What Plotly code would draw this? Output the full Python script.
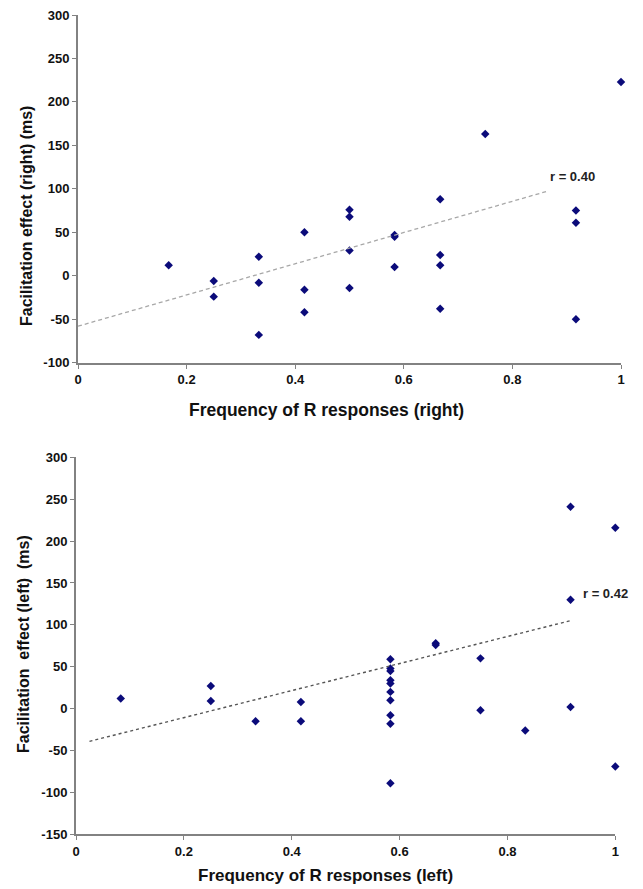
import plotly.graph_objects as go

# ---- Top panel (right) ----
right_x = [0.167, 0.25, 0.25, 0.333, 0.333, 0.333, 0.417, 0.417, 0.417,
           0.5, 0.5, 0.5, 0.5, 0.583, 0.583, 0.583, 0.667, 0.667, 0.667, 0.667,
           0.75, 0.917, 0.917, 0.917, 1.0]
right_y = [12, -6, -24, 22, -8, -68, 50, -16, -42,
           76, 68, 29, -14, 47, 45, 10, 88, 24, 12, -38,
           163, 75, 61, -50, 223]
right_trend_x = [0.0, 0.863]
right_trend_y = [-58, 97]
right_r = "r = 0.40"

# ---- Bottom panel (left) ----
left_x = [0.083, 0.25, 0.25, 0.333, 0.417, 0.417,
          0.583, 0.583, 0.583, 0.583, 0.583, 0.583, 0.583, 0.583, 0.583, 0.583,
          0.667, 0.667, 0.75, 0.75, 0.833, 0.917, 0.917, 0.917, 1.0, 1.0]
left_y = [12, 27, 9, -15, 8, -15,
          59, 48, 45, 34, 30, 20, 10, -8, -18, -89,
          78, 76, 60, -2, -26, 241, 130, 2, 216, -69]
left_trend_x = [0.025, 0.917]
left_trend_y = [-39, 105]
left_r = "r = 0.42"

x_ticks = [0, 0.2, 0.4, 0.6, 0.8, 1]
x_tick_labels = ["0", "0.2", "0.4", "0.6", "0.8", "1"]
top_y_ticks = [-100, -50, 0, 50, 100, 150, 200, 250, 300]
bot_y_ticks = [-150, -100, -50, 0, 50, 100, 150, 200, 250, 300]

W, H = 643, 889
FONT = "Liberation Sans, Arial, sans-serif"
MARK = "#0b0b7a"
AX = "#828282"

fig = go.Figure()

fig.add_trace(go.Scatter(x=right_x, y=right_y, mode="markers", xaxis="x", yaxis="y",
                         cliponaxis=False,
                         marker=dict(symbol="diamond", size=6.5, color=MARK), showlegend=False))
fig.add_trace(go.Scatter(x=right_trend_x, y=right_trend_y, mode="lines", xaxis="x", yaxis="y",
                         line=dict(color="#a8a8a8", width=1.3, dash="4px,3px"), showlegend=False))
fig.add_trace(go.Scatter(x=left_x, y=left_y, mode="markers", xaxis="x2", yaxis="y2",
                         cliponaxis=False,
                         marker=dict(symbol="diamond", size=6.5, color=MARK), showlegend=False))
fig.add_trace(go.Scatter(x=left_trend_x, y=left_trend_y, mode="lines", xaxis="x2", yaxis="y2",
                         line=dict(color="#555555", width=1.4, dash="3px,3px"), showlegend=False))

tickfont = dict(family=FONT, size=13, color="#111", weight="bold")

def xaxis(domain, anchor):
    return dict(domain=domain, anchor=anchor, range=[0, 1], tickvals=x_ticks,
                ticktext=x_tick_labels,
                showgrid=False, zeroline=False, showline=True, linecolor=AX, linewidth=2,
                ticks="outside", ticklen=4, tickcolor=AX, tickwidth=1,
                tickfont=tickfont, automargin=False)

def yaxis(domain, anchor, rng, ticks):
    return dict(domain=domain, anchor=anchor, range=rng, tickvals=ticks,
                ticktext=[str(t) for t in ticks],
                showgrid=False, zeroline=False, showline=True, linecolor=AX, linewidth=2,
                ticks="outside", ticklen=4, tickcolor=AX, tickwidth=1,
                tickfont=tickfont, automargin=False)

fig.update_layout(
    width=W, height=H, margin=dict(l=0, r=0, t=0, b=0, autoexpand=False),
    paper_bgcolor="white", plot_bgcolor="white",
    xaxis=xaxis([78 / W, 621 / W], "y"),
    yaxis=yaxis([1 - 362.7 / H, 1 - 15 / H], "x", [-100, 300], top_y_ticks),
    xaxis2=xaxis([76 / W, 615.3 / W], "y2"),
    yaxis2=yaxis([1 - 834.3 / H, 1 - 457.3 / H], "x2", [-150, 300], bot_y_ticks),
)

fig.add_annotation(x=326 / W, y=1 - 410 / H, xref="paper", yref="paper",
                   text="<b>Frequency of R responses (right)</b>", showarrow=False,
                   font=dict(family=FONT, size=17.5, color="#111"),
                   xanchor="center", yanchor="middle")
fig.add_annotation(x=325 / W, y=1 - 875 / H, xref="paper", yref="paper",
                   text="<b>Frequency of R responses (left)</b>", showarrow=False,
                   font=dict(family=FONT, size=17, color="#111"),
                   xanchor="center", yanchor="middle")
fig.add_annotation(x=26 / W, y=1 - 216 / H, xref="paper", yref="paper",
                   text="<b>Facilitation effect (right) (ms)</b>", showarrow=False,
                   font=dict(family=FONT, size=16, color="#111"),
                   textangle=-90, xanchor="center", yanchor="middle")
fig.add_annotation(x=23 / W, y=1 - 644 / H, xref="paper", yref="paper",
                   text="<b>Facilitation&nbsp; effect (left)&nbsp; (ms)</b>", showarrow=False,
                   font=dict(family=FONT, size=16, color="#111"),
                   textangle=-90, xanchor="center", yanchor="middle")

fig.add_annotation(x=0.866, y=114, xref="x", yref="y",
                   text="<b>" + right_r + "</b>", showarrow=False, xanchor="left", yanchor="middle",
                   font=dict(family=FONT, size=13, color="#222"))
fig.add_annotation(x=0.936, y=138, xref="x2", yref="y2",
                   text="<b>" + left_r + "</b>", showarrow=False, xanchor="left", yanchor="middle",
                   font=dict(family=FONT, size=13, color="#222"))

fig.write_html("out.html", config={"displayModeBar": False},
               post_script="document.body.style.margin='0px';document.body.style.overflow='hidden';")
